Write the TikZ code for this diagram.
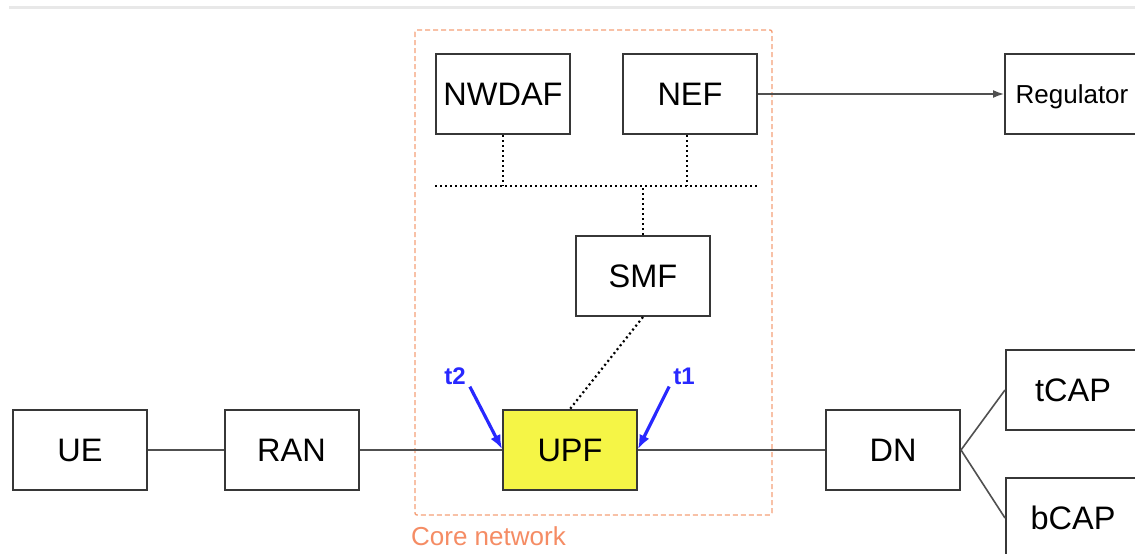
\documentclass[tikz,border=0pt]{standalone}
\usepackage{fontspec}
\setmainfont{Liberation Sans}
\usetikzlibrary{arrows.meta}
\definecolor{boxline}{RGB}{55,55,55}
\definecolor{conline}{RGB}{80,80,80}
\definecolor{coreor}{RGB}{245,160,120}
\definecolor{coretxt}{RGB}{245,140,100}
\definecolor{upfyel}{RGB}{245,245,70}
\definecolor{tblue}{RGB}{40,40,255}
\definecolor{topgray}{RGB}{232,232,232}
\tikzset{
  nbox/.style={draw=boxline, line width=2pt, minimum width=134pt, minimum height=80pt,
     inner sep=0pt, font=\fontsize{32.5}{38}\selectfont},
  conn/.style={draw=conline, line width=1.6pt},
  dotline/.style={draw=black, line width=2.2pt, dash pattern=on 2pt off 3pt},
  tarrow/.style={draw=tblue, line width=3.2pt, -{Latex[length=14pt,width=11pt]}},
  tlabel/.style={text=tblue, font=\fontsize{24}{28}\selectfont\bfseries, inner sep=1pt},
}
\begin{document}
\begin{tikzpicture}[x=1pt,y=-1pt]
\clip (0,0) rectangle (1135,554);
\fill[white] (0,0) rectangle (1135,554);
% top gray rule
\draw[topgray, line width=3pt] (9,7.5) -- (1135,7.5);
% core network box
\draw[coreor, line width=1.4pt, dash pattern=on 5pt off 3pt, rounded corners=2pt] (415,30) rectangle (772,515);
\node[anchor=west, text=coretxt, font=\fontsize{26}{30}\selectfont, inner sep=0pt] (corelbl) at (411,536) {Core network};
% nodes
\node[nbox] (nwdaf) at (503,94) {NWDAF};
\node[nbox] (nef) at (690,94) {NEF};
\node[nbox, font=\fontsize{26}{30}\selectfont, text depth=4pt, text height=22pt] (reg) at (1072,94) {Regulator};
\node[nbox] (smf) at (643,276) {SMF};
\node[nbox, fill=upfyel] (upf) at (570,450) {UPF};
\node[nbox] (ue) at (80,450) {UE};
\node[nbox] (ran) at (291.5,450) {RAN};
\node[nbox] (dn) at (893,450) {DN};
\node[nbox] (tcap) at (1073,390) {tCAP};
\node[nbox] (bcap) at (1073,518) {bCAP};
% bus
\coordinate (busL) at (435,186);
\coordinate (busR) at (758,186);
\draw[dotline] (busL) -- (busR);
\draw[dotline] (nwdaf.south) -- (nwdaf.south |- busL);
\draw[dotline] ([xshift=-3pt]nef.south) -- ([xshift=-3pt]nef.south |- busL);
\draw[dotline] (smf.north) -- (smf.north |- busL);
\draw[dotline] (smf.south) -- (upf.north);
% solid connectors
\draw[conn] (ue.east) -- (ran.west);
\draw[conn] (ran.east) -- (upf.west);
\draw[conn] (upf.east) -- (dn.west);
\draw[conn] (dn.east) -- (tcap.west);
\draw[conn] (dn.east) -- (bcap.west);
\draw[conn, -{Latex[length=11pt,width=8pt]}] (nef.east) -- (reg.west);
% t1 t2
\node[tlabel] (t2) at (455,376) {t2};
\node[tlabel] (t1) at (684,376) {t1};
\draw[tarrow] ([xshift=3pt,yshift=-1pt]t2.south east) -- ([yshift=1pt]upf.west);
\draw[tarrow] ([xshift=-3pt,yshift=-1pt]t1.south west) -- ([yshift=1pt]upf.east);
\end{tikzpicture}
\end{document}
